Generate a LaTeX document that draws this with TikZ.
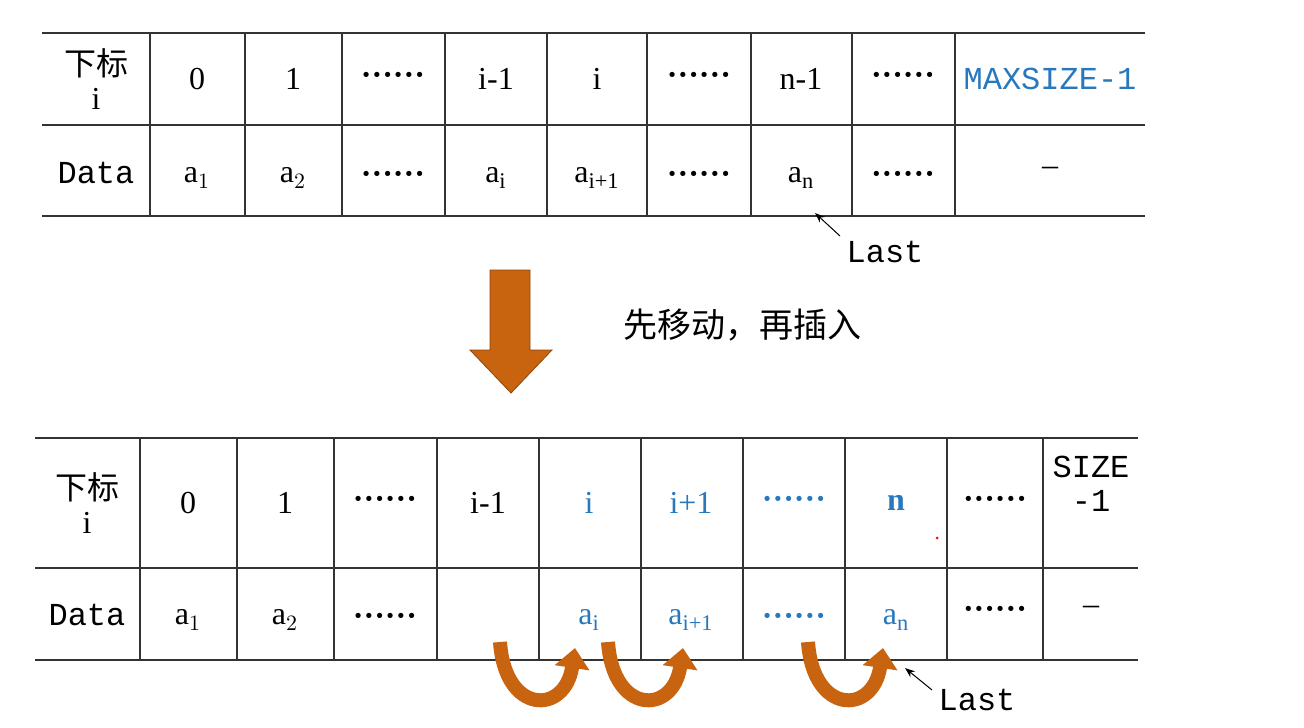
\documentclass[tikz,border=0pt]{standalone}
\usepackage{fontspec}
\setmainfont{Liberation Serif}
\setmonofont{Liberation Mono}
\newfontfamily\cjk{Noto Sans CJK SC}
\usetikzlibrary{arrows.meta}
\definecolor{numblue}{RGB}{40,120,190}
\definecolor{movebrown}{RGB}{200,100,15}
\newcommand{\dotrow}{\textbf{······}}
\begin{document}
\begin{tikzpicture}[x=0.5pt,y=-0.5pt,
    cell/.style={font=\fontsize{16}{18}\selectfont},
    blue cell/.style={cell,text=numblue},
    grid/.style={black!80,line width=0.6pt},
    move/.style={movebrown,line width=7pt,-{Triangle[width=17pt,length=10pt]}},
    lastarrow/.style={black,line width=0.5pt,-{Stealth[length=5pt]}}]
\useasboundingbox (0,0) rectangle (1304,727);

% upper table
\foreach \y in {33,125,216} \draw[grid] (42,\y)--(1145,\y);
\foreach \x in {150,245,342,445,547,647,751,852,955} \draw[grid] (\x,33)--(\x,216);
\node[cell,align=center] (ta) at (96,79) {{\cjk 下标}\\[-1pt]i};
\node[cell] (tb) at (96,173) {\ttfamily Data};
\foreach \x/\t/\d [count=\k] in {197/0/a$_1$,293/1/a$_2$,393/\dotrow/\dotrow,
    496/i-1/a\textsubscript{i},597/i/a\textsubscript{i+1},699/\dotrow/\dotrow,
    801/n-1/a\textsubscript{n},903/\dotrow/\dotrow}{
    \node[cell] (tt\k) at (\x,79) {\t};
    \node[cell] (td\k) at (\x,178) {\d};
}
\node[blue cell] (tmax) at (1050,79) {\ttfamily MAXSIZE-1};
\node[cell] (tdash) at (1050,171) {--};
\coordinate (tlastend) at (815,213);
\node[cell] (tlast) at (885,252) {\ttfamily Last};
\draw[lastarrow] (840,236)--(tlastend);

% big arrow
\fill[movebrown,draw=movebrown!70!black] (490,270)--(530,270)--(530,350)--(552,350)--(511,393)--(470,350)--(490,350)--cycle;
\node[cell,font=\cjk\fontsize{17}{19}\selectfont] (step) at (742,325) {先移动，再插入};

% lower table
\foreach \y in {438,568,660} \draw[grid] (35,\y)--(1138,\y);
\foreach \x in {140,237,334,437,539,641,743,845,947,1043} \draw[grid] (\x,438)--(\x,660);
\node[cell,align=center] (ba) at (87,503) {{\cjk 下标}\\[-1pt]i};
\node[cell] (bb) at (87,615) {\ttfamily Data};
\foreach \x/\t/\d [count=\k] in {188/0/a$_1$,285/1/a$_2$,385/\dotrow/\dotrow,488/i-1/{}}{
    \node[cell] (bt\k) at (\x,503) {\t};
    \node[cell] (bd\k) at (\x,620) {\d};
}
\foreach \x/\t/\d [count=\k from 5] in {589/i/a\textsubscript{i},691/i+1/a\textsubscript{i+1},
    794/\dotrow/\dotrow,896/\textbf{n}/a\textsubscript{n}}{
    \node[blue cell] (bt\k) at (\x,503) {\t};
    \node[blue cell] (bd\k) at (\x,620) {\d};
}
\node[cell] (bt9) at (995,503) {\dotrow};
\node[cell] (bd9) at (995,613) {\dotrow};
\node[cell,align=center] (bsize) at (1091,484) {\ttfamily SIZE\\[-1pt]\ttfamily -1};
\node[cell] (bdash) at (1091,610) {--};
\fill[red] (937,538) circle (1.5);

% moves
\draw[move] (500,642) .. controls (505,715) and (565,715) .. (575,648);
\draw[move] (608,642) .. controls (613,715) and (673,715) .. (683,648);
\draw[move] (808,642) .. controls (813,715) and (873,715) .. (883,648);

\coordinate (blastend) at (905,668);
\node[cell] (blast) at (977,700) {\ttfamily Last};
\draw[lastarrow] (932,690)--(blastend);
\end{tikzpicture}
\end{document}
